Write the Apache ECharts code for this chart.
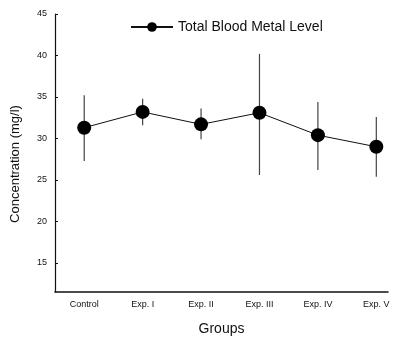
<!DOCTYPE html>
<html>
<head>
<meta charset="utf-8">
<script src="https://cdn.jsdelivr.net/npm/echarts@6/dist/echarts.min.js"></script>
<style>
    html, body { margin: 0; padding: 0; background: #fff; }
    #main { width: 399px; height: 340px; }
</style>
</head>
<body>
<div id="main"></div>
<script>
// groups on x axis
var groups = ["Control", "Exp. I", "Exp. II", "Exp. III", "Exp. IV", "Exp. V"];
// mean concentration (mg/l)
var meanValues = [31.3, 33.2, 31.7, 33.1, 30.4, 29.0];
// error bar ends
var upperValues = [35.2, 34.8, 33.6, 40.2, 34.4, 32.6];
var lowerValues = [27.3, 31.6, 29.9, 25.6, 26.2, 25.4];
// y tick labels
var yTicks = [15, 20, 25, 30, 35, 40, 45];

var font = "Liberation Sans, Arial, sans-serif";

var lineData = meanValues.map(function (v, i) { return [i, v]; });
var barData = groups.map(function (g, i) { return [i, lowerValues[i], upperValues[i]]; });

var chart = echarts.init(document.getElementById("main"));
var option = {
    animation: false,
    backgroundColor: "#fff",
    textStyle: { fontFamily: font },
    grid: { left: 55, right: 11, top: 14, bottom: 48, outerBoundsMode: "none", containLabel: false },
    legend: {
        top: 15,
        left: 125,
        itemWidth: 42,
        itemHeight: 12,
        itemGap: 11,
        textStyle: { fontSize: 14, color: "#111", fontFamily: font },
        data: ["Total Blood Metal Level"]
    },
    xAxis: {
        type: "value",
        min: -0.5,
        max: 5.2,
        name: "Groups",
        nameLocation: "middle",
        nameGap: 30,
        nameTextStyle: { fontSize: 14, color: "#111" },
        splitLine: { show: false },
        axisLine: { onZero: false, lineStyle: { color: "#111", width: 1.5 } },
        axisTick: { show: false },
        axisLabel: {
            customValues: [0, 1, 2, 3, 4, 5],
            fontSize: 9,
            color: "#111",
            margin: 8,
            formatter: function (v) { return groups[Math.round(v)]; }
        }
    },
    yAxis: {
        type: "value",
        min: 11.5,
        max: 45,
        name: "Concentration (mg/l)",
        nameLocation: "middle",
        nameGap: 33,
        nameTextStyle: { fontSize: 13, color: "#111", padding: [0, 22, 0, 0] },
        splitLine: { show: false },
        axisLine: { show: true, onZero: false, lineStyle: { color: "#111", width: 1.2 } },
        axisTick: { show: true, inside: true, customValues: yTicks, length: 3, lineStyle: { color: "#111" } },
        axisLabel: { customValues: yTicks, fontSize: 9, color: "#111", margin: 8 }
    },
    series: [{
        name: "errors",
        type: "custom",
        z: 1,
        data: barData,
        renderItem: function (params, api) {
            var top = api.coord([api.value(0), api.value(2)]);
            var bottom = api.coord([api.value(0), api.value(1)]);
            return {
                type: "line",
                shape: { x1: top[0], y1: top[1], x2: bottom[0], y2: bottom[1] },
                style: { stroke: "#444", lineWidth: 1.2 }
            };
        }
    }, {
        name: "Total Blood Metal Level",
        type: "line",
        z: 2,
        data: lineData,
        symbol: "circle",
        symbolSize: 14,
        itemStyle: { color: "#000" },
        lineStyle: { color: "#111", width: 1 }
    }]
};
chart.setOption(option);
</script>
</body>
</html>
